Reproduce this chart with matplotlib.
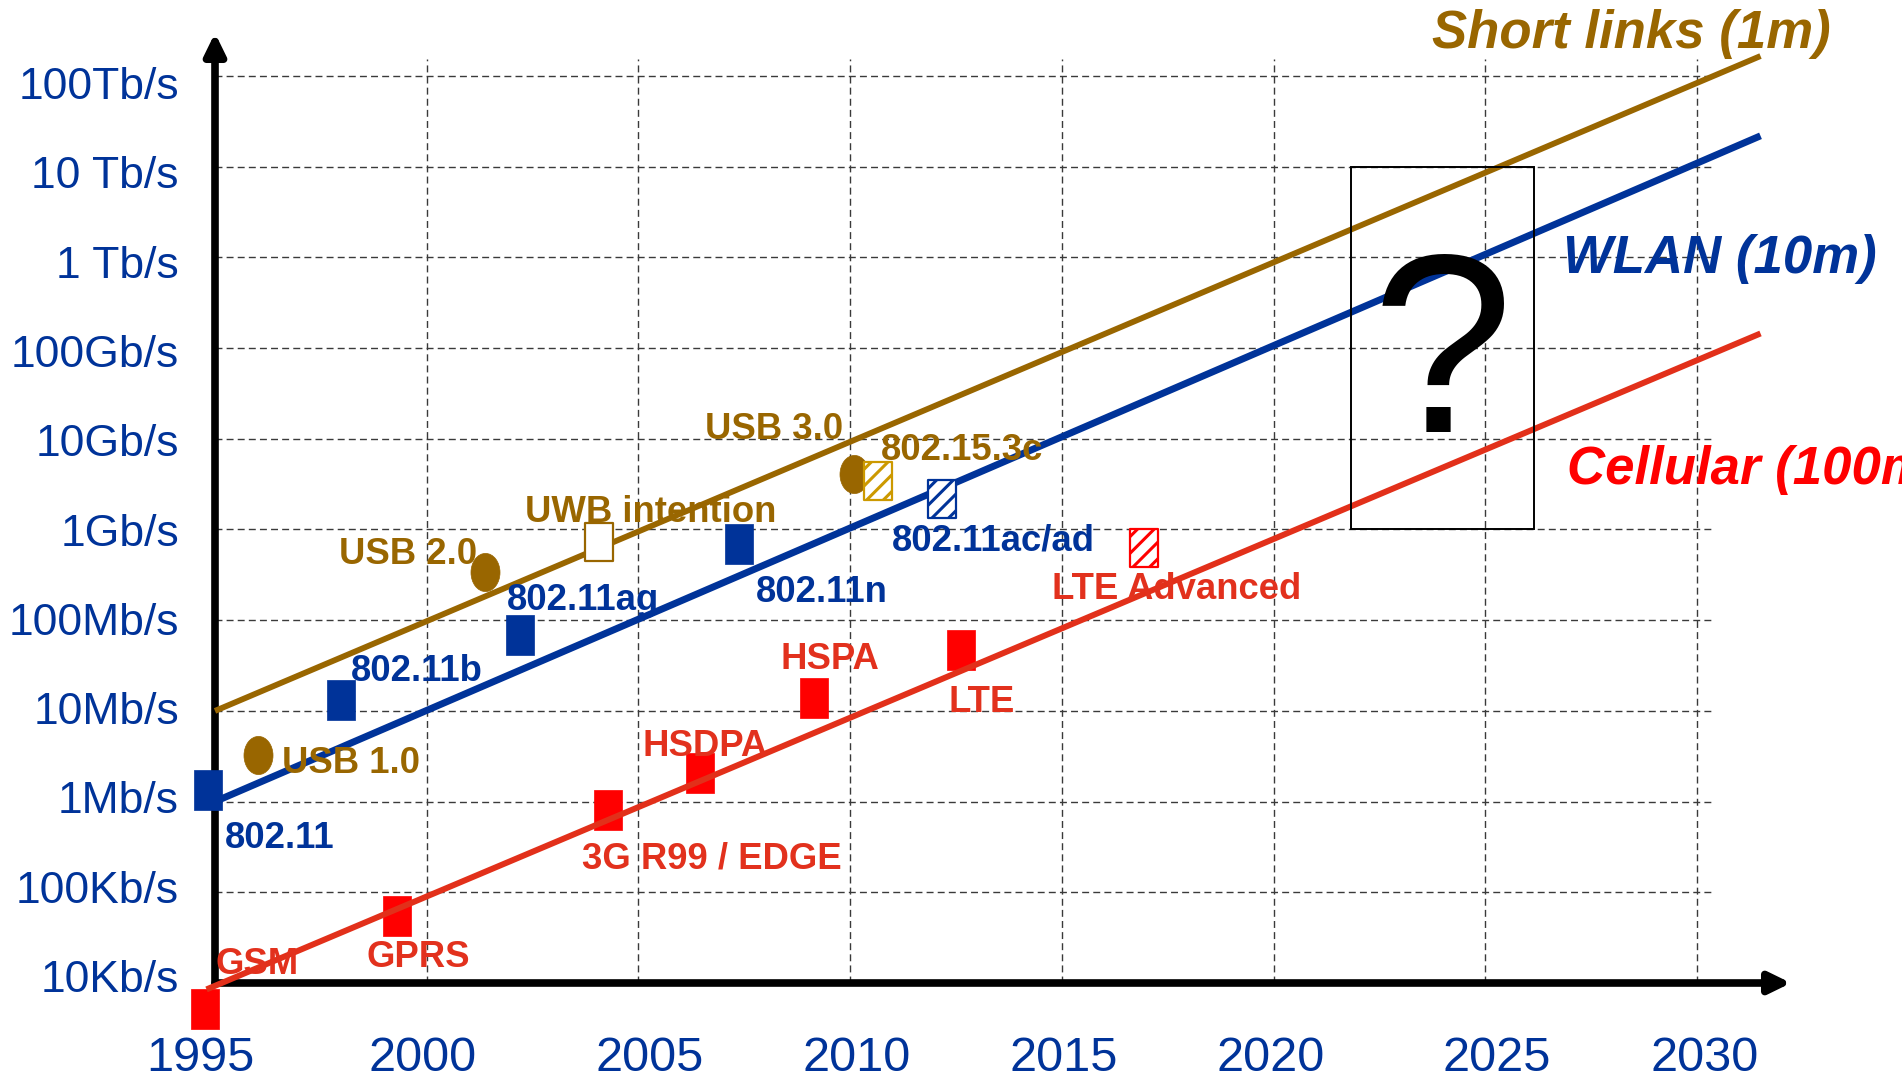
import numpy as np
import matplotlib
matplotlib.use('Agg')
import matplotlib.pyplot as plt
from matplotlib.path import Path
from matplotlib.patches import Rectangle
from matplotlib.transforms import ScaledTranslation

plt.rcParams['font.family'] = ['Liberation Sans', 'DejaVu Sans']
plt.rcParams['hatch.linewidth'] = 2.2

# ---------------- data ----------------
year_ticks = [1995, 2000, 2005, 2010, 2015, 2020, 2025, 2030]
rate_ticks = [1e4, 1e5, 1e6, 1e7, 1e8, 1e9, 1e10, 1e11, 1e12, 1e13, 1e14]
rate_labels = ["10Kb/s", "100Kb/s", "1Mb/s", "10Mb/s", "100Mb/s", "1Gb/s",
               "10Gb/s", "100Gb/s", "1 Tb/s", "10 Tb/s", "100Tb/s"]

# trend lines (start / end)
short_trend_years = [1995.0, 2031.5]
short_trend_rates = [1.0e7, 1.66e14]
wlan_trend_years = [1995.0, 2031.5]
wlan_trend_rates = [1.0e6, 2.19e13]
cell_trend_years = [1994.8, 2031.5]
cell_trend_rates = [8.5e3, 1.45e11]

# short links (1m)
short_names = ["USB 1.0", "USB 2.0", "UWB intention", "USB 3.0", "802.15.3c"]
short_years = [1996.02, 2001.38, 2004.07, 2010.09, 2010.66]
short_rates = [3.27e6, 3.40e8, 7.3e8, 4.1e9, 3.4e9]
short_kind = ["wired", "wired", "intention", "wired", "planned"]

# WLAN (10m)
wlan_names = ["802.11", "802.11b", "802.11ag", "802.11n", "802.11ac/ad"]
wlan_years = [1994.83, 1997.98, 2002.20, 2007.38, 2012.17]
wlan_rates = [1.34e6, 1.32e7, 6.9e7, 6.9e8, 2.17e9]
wlan_kind = ["released", "released", "released", "released", "planned"]

# Cellular (100m)
cell_names = ["GSM", "GPRS", "3G R99 / EDGE", "HSDPA", "HSPA", "LTE", "LTE Advanced"]
cell_years = [1994.76, 1999.30, 2004.28, 2006.45, 2009.15, 2012.62, 2016.94]
cell_rates = [5.2e3, 5.5e4, 8.1e5, 2.07e6, 1.39e7, 4.7e7, 6.25e8]
cell_kind = ["released"] * 6 + ["planned"]

# "?" region
box_years = [2021.83, 2026.16]
box_rates = [1e9, 1e13]

# ---------------- layout / style ----------------
GOLD = '#996600'
GOLD_EDGE = '#CC9900'
BLUE = '#003399'
RED = '#FF0000'
RED_LINE = '#E2301A'
RED_TXT = '#E2311D'

short_offsets = [(17, -13), (-105, 6), (-53, 14), (-107, 25), (2, 15)]
wlan_offsets = [(12, -42), (7, 14), (-9, 18), (12, -42), (-36, -37)]
cell_offsets = [(8, 25), (-22, -37), (-19, -42), (-41, 12), (-24, 21), (-9, -45), (-66, -37)]
xlabel_shift_px = [-15, -4, 11, 6, 2, -3, 11, 8]
LABEL_FS = 26.3

fig = plt.figure(figsize=(19.02, 10.81), dpi=100)
W, H = 1902, 1081
px_left, px_right, px_bottom, px_top = 215, 1791, 983, 33
ax = fig.add_axes([px_left / W, (H - px_bottom) / H,
                   (px_right - px_left) / W, (px_bottom - px_top) / H])
ax.set_yscale('log')
px_per_year = (1697 - 215) / 35.0
px_per_dec = (983 - 76) / 10.0
ax.set_xlim(year_ticks[0], year_ticks[0] + (px_right - px_left) / px_per_year)
ax.set_ylim(rate_ticks[0], rate_ticks[0] * 10 ** ((px_bottom - px_top) / px_per_dec))

for s in ax.spines.values():
    s.set_visible(False)

# grid
grid_kw = dict(color='#3a3a3a', lw=1.0, linestyle=(0, (5, 3)), zorder=1)
ax.hlines(rate_ticks[1:], year_ticks[0], year_ticks[-1] + 0.35, **grid_kw)
ax.vlines(year_ticks[1:], rate_ticks[0], rate_ticks[-1] * 10 ** 0.19, **grid_kw)

# ticks
ax.set_xticks(year_ticks)
ax.set_xticklabels([str(y) for y in year_ticks])
ax.set_yticks(rate_ticks)
ax.set_yticklabels(rate_labels)
ax.minorticks_off()
ax.tick_params(axis='x', length=0, pad=38, labelsize=35, labelcolor=BLUE)
ax.tick_params(axis='y', length=0, pad=26, labelsize=32, labelcolor=BLUE)
for lab, sh in zip(ax.get_xticklabels(), xlabel_shift_px):
    lab.set_transform(lab.get_transform() + ScaledTranslation(sh / 100, 0, fig.dpi_scale_trans))
for i, lab in enumerate(ax.get_yticklabels()):
    dy = -7 + 1.4 * i  # px downward
    lab.set_transform(lab.get_transform() + ScaledTranslation(0, -dy / 100, fig.dpi_scale_trans))

# axes arrows
arrow_kw = dict(arrowstyle='-|>,head_length=0.45,head_width=0.22', lw=5.5,
                color='black', shrinkA=0, shrinkB=0, mutation_scale=28)
ax.annotate('', xy=(0, 1), xytext=(0, 0), xycoords='axes fraction',
            arrowprops=arrow_kw, zorder=3, annotation_clip=False)
ax.annotate('', xy=(1, 0), xytext=(0, 0), xycoords='axes fraction',
            arrowprops=arrow_kw, zorder=3, annotation_clip=False)

# trend lines
ax.plot(short_trend_years, short_trend_rates, color=GOLD, lw=4.2, zorder=5,
        solid_capstyle='butt', clip_on=False)
ax.plot(wlan_trend_years, wlan_trend_rates, color=BLUE, lw=5.0, zorder=5,
        solid_capstyle='butt', clip_on=False)
ax.plot(cell_trend_years, cell_trend_rates, color=RED_LINE, lw=4.3, zorder=5,
        solid_capstyle='butt', clip_on=False)

# marker shapes
rect_marker = Path([(-0.36, -0.5), (0.36, -0.5), (0.36, 0.5), (-0.36, 0.5), (-0.36, -0.5)],
                   [Path.MOVETO, Path.LINETO, Path.LINETO, Path.LINETO, Path.CLOSEPOLY])
circ = Path.unit_circle()
ell_marker = Path(circ.vertices * np.array([0.38, 0.5]), circ.codes)
MS = 28.5


def draw_points(years, rates, kinds, color, edge_planned):
    for yr, rt, k in zip(years, rates, kinds):
        if k == 'wired':
            ax.plot([yr], [rt], linestyle='none', marker=ell_marker, ms=27.5,
                    color=color, mec=color, mew=0.5, zorder=4, clip_on=False)
        elif k == 'released':
            ax.plot([yr], [rt], linestyle='none', marker=rect_marker, ms=MS,
                    color=color, mec=color, mew=0.5, zorder=4, clip_on=False)
        elif k == 'intention':
            ax.plot([yr], [rt], linestyle='none', marker=rect_marker, ms=MS - 1,
                    mfc='white', mec=color, mew=1.6, zorder=6, clip_on=False)
        elif k == 'planned':
            ax.scatter([yr], [rt], marker=rect_marker, s=(MS - 1) ** 2,
                       facecolor='white', edgecolor=edge_planned, hatch='//',
                       linewidths=1.6, zorder=6, clip_on=False)


draw_points(short_years, short_rates, short_kind, GOLD, GOLD_EDGE)
draw_points(wlan_years, wlan_rates, wlan_kind, BLUE, BLUE)
draw_points(cell_years, cell_rates, cell_kind, RED, RED)


def draw_labels(names, years, rates, offsets, color):
    for n, yr, rt, off in zip(names, years, rates, offsets):
        ax.annotate(n, (yr, rt), xytext=off, textcoords='offset points',
                    ha='left', va='baseline', fontsize=LABEL_FS, fontweight='bold',
                    color=color, zorder=8, annotation_clip=False)


draw_labels(short_names, short_years, short_rates, short_offsets, GOLD)
draw_labels(wlan_names, wlan_years, wlan_rates, wlan_offsets, BLUE)
draw_labels(cell_names, cell_years, cell_rates, cell_offsets, RED_TXT)

# question box
ax.add_patch(Rectangle((box_years[0], box_rates[0]), box_years[1] - box_years[0],
                       box_rates[1] - box_rates[0], fill=False, ec='black', lw=1.4, zorder=7))
ax.text(np.mean(box_years), 10 ** 10.075, "?", ha='center', va='baseline',
        fontsize=183, color='black', zorder=7)

# series titles
title_kw = dict(fontsize=38, fontweight='bold', fontstyle='italic', ha='left', va='baseline', zorder=8)
ax.text(2023.74, 10 ** 14.309, "Short links (1m)", color=GOLD, **title_kw)
ax.text(2026.83, 10 ** 11.83, "WLAN (10m)", color=BLUE, **title_kw)
ax.text(2026.93, 10 ** 9.50, "Cellular (100m)", color=RED, **title_kw)

fig.savefig('out.png', dpi=100)
